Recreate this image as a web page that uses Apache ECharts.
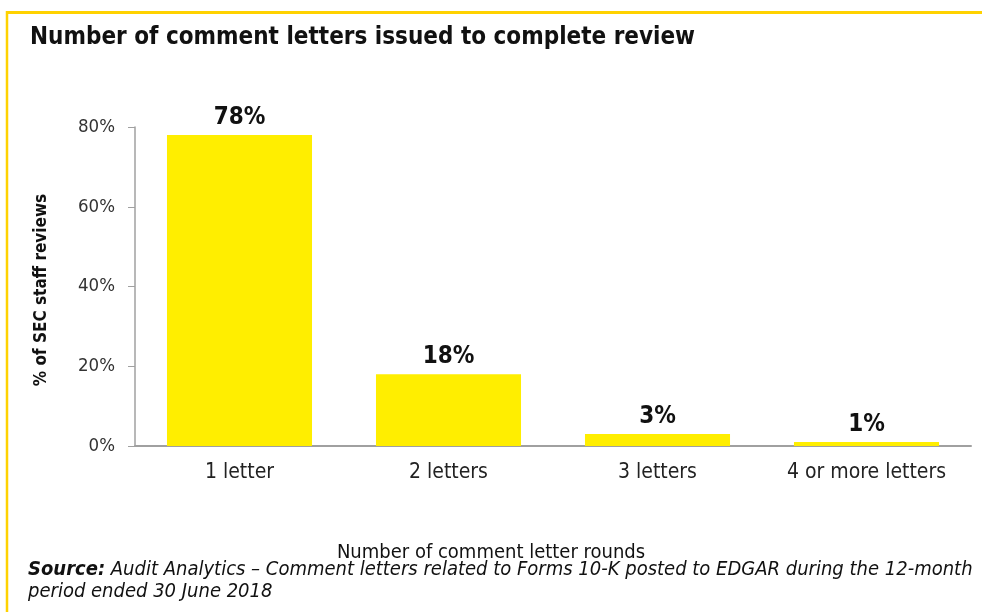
<!DOCTYPE html>
<html><head><meta charset="utf-8">
<script src="https://cdn.jsdelivr.net/npm/echarts@6/dist/echarts.min.js"></script>
<style>html,body{margin:0;padding:0;background:#fff}#c{width:982px;height:615px}</style>
</head><body><div id="c"></div>
<script>
var categories = ['1 letter', '2 letters', '3 letters', '4 or more letters'];
var values = [78, 18, 3, 1];
var yTicks = [0, 20, 40, 60, 80];
var FONT = '"DejaVu Sans Condensed", "DejaVu Sans", sans-serif';
var chart = echarts.init(document.getElementById('c'));
chart.setOption({
  animation: false,
  textStyle: {fontFamily: FONT},
  grid: {left: 135, right: 11, top: 127, bottom: 169},
  xAxis: {
    type: 'category', data: categories,
    axisLine: {lineStyle: {color: '#a0a0a0', width: 2}},
    axisTick: {show: false},
    axisLabel: {color: '#222', fontSize: 21, margin: 16, fontFamily: FONT}
  },
  yAxis: {
    type: 'value', min: yTicks[0], max: yTicks[yTicks.length - 1], interval: 20,
    axisLine: {show: true, lineStyle: {color: '#a0a0a0', width: 1.5}},
    axisTick: {show: true, length: 7, lineStyle: {color: '#a0a0a0'}},
    splitLine: {show: false},
    axisLabel: {color: '#333', fontSize: 18.5, margin: 20, formatter: '{value}%', fontFamily: FONT}
  },
  series: [{
    type: 'bar', data: values, barWidth: '69.4%',
    itemStyle: {color: '#FFEE00'},
    label: {show: true, position: 'top', distance: 5, formatter: '{c}%', fontSize: 24, fontWeight: 'bold', color: '#111', fontFamily: FONT}
  }],
  graphic: [
    {type: 'line', shape: {x1: 6, y1: 12.5, x2: 982, y2: 12.5}, style: {stroke: '#FFD200', lineWidth: 3}},
    {type: 'line', shape: {x1: 7, y1: 11, x2: 7, y2: 612}, style: {stroke: '#FFD200', lineWidth: 2.5}},
    {type: 'text', left: 30, top: 26, style: {text: 'Number of comment letters issued to complete review', font: 'bold 24px ' + FONT, fill: '#111'}},
    {type: 'text', x: 42, y: 290, rotation: Math.PI / 2, style: {text: '% of SEC staff reviews', font: 'bold 17px ' + FONT, fill: '#111', align: 'center', verticalAlign: 'middle'}},
    {type: 'text', x: 491, y: 553, style: {text: 'Number of comment letter rounds', font: '20px ' + FONT, fill: '#111', align: 'center', verticalAlign: 'middle'}},
    {type: 'text', x: 28, y: 559, style: {
      text: '{b|Source:} Audit Analytics \u2013 Comment letters related to Forms 10-K posted to EDGAR during the 12-month\nperiod ended 30 June 2018',
      font: 'italic 20px ' + FONT, fill: '#111', lineHeight: 22,
      rich: {b: {fontWeight: 'bold', fontStyle: 'italic', fontSize: 20, fontFamily: FONT, fill: '#111', lineHeight: 22}}
    }}
  ]
});
</script></body></html>
